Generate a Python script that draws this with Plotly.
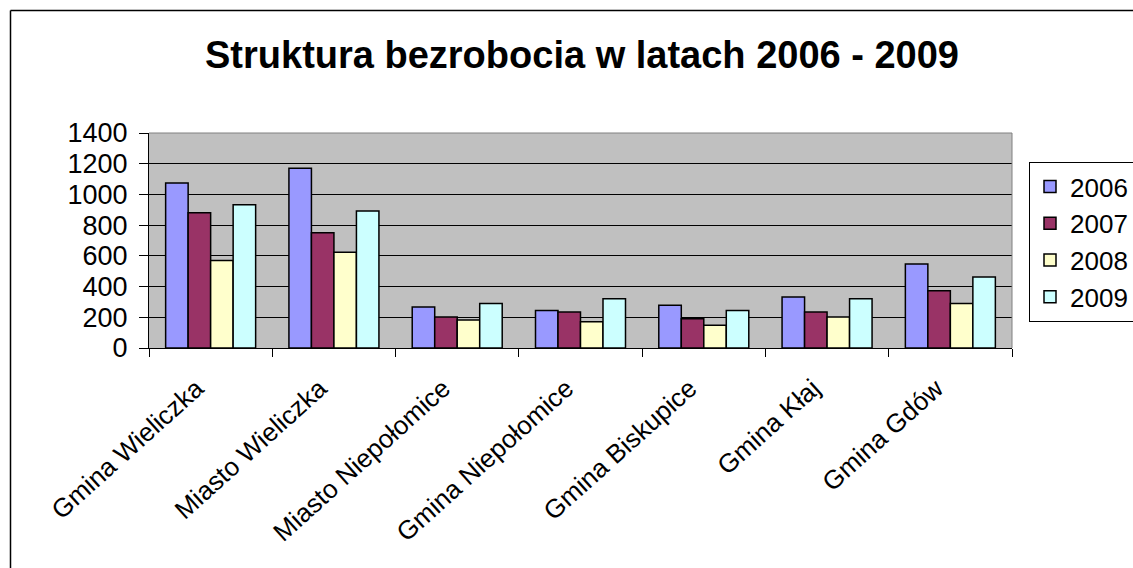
import plotly.graph_objects as go

categories = ["Gmina Wieliczka", "Miasto Wieliczka", "Miasto Niepołomice",
              "Gmina Niepołomice", "Gmina Biskupice", "Gmina Kłaj", "Gmina Gdów"]
years = ["2006", "2007", "2008", "2009"]
v2006 = [1075, 1170, 267, 245, 278, 332, 547]
v2007 = [880, 750, 202, 234, 191, 234, 373]
v2008 = [569, 623, 182, 171, 148, 202, 289]
v2009 = [933, 892, 289, 321, 245, 321, 462]
series = [v2006, v2007, v2008, v2009]
colors = ["#9999FF", "#993366", "#FFFFCC", "#CCFFFF"]

FONT = "Liberation Sans, Arial, sans-serif"

fig = go.Figure()
for name, vals, col in zip(years, series, colors):
    fig.add_trace(go.Bar(
        x=categories, y=vals, name=name,
        marker=dict(color=col, line=dict(color="black", width=1.5)),
    ))

W, H = 1133, 568
L, R, T, B = 149, 1012, 133, 348
pw, ph = R - L, B - T

def px2x(px):
    return (px - L) / pw

def py2y(py):
    return (B - py) / ph

fig.update_layout(
    width=W, height=H,
    margin=dict(l=L, r=W - R, t=T, b=H - B, pad=0, autoexpand=False),
    paper_bgcolor="white",
    plot_bgcolor="#C0C0C0",
    barmode="group",
    bargap=0.27,
    bargroupgap=0,
    font=dict(family=FONT, size=26, color="black"),
    title=dict(
        text="<b>Struktura bezrobocia w latach 2006 - 2009</b>",
        font=dict(family=FONT, size=38, color="black"),
        xref="paper", x=px2x(582), xanchor="center",
        yref="container", y=1 - 55 / H, yanchor="middle",
    ),
    legend=dict(
        x=px2x(1029), xanchor="left",
        y=py2y(162), yanchor="top",
        bgcolor="white", bordercolor="black", borderwidth=1,
        font=dict(family=FONT, size=26, color="black"),
        tracegroupgap=0,
        itemwidth=30,
    ),
    showlegend=True,
)

fig.update_yaxes(
    range=[0, 1400], dtick=200, tick0=0,
    showgrid=True, gridcolor="black", gridwidth=1,
    zeroline=False,
    showline=True, linecolor="black", linewidth=1,
    ticks="outside", ticklen=9, tickcolor="black", tickwidth=1,
    tickfont=dict(family=FONT, size=27, color="black"),
    ticklabelstandoff=6,
)
fig.update_xaxes(
    showline=True, linecolor="black", linewidth=1,
    ticks="outside", ticklen=8, tickcolor="black", tickwidth=1,
    tickson="boundaries",
    tickangle=-42,
    tickfont=dict(family=FONT, size=26, color="black"),
    ticklabelstandoff=14,
    ticklabelshift=-14,
    showgrid=False,
)

# plot-area top/right border (gray) and outer chart border (black)
fig.add_shape(type="line", xref="paper", yref="paper", x0=0, x1=1, y0=1, y1=1,
              line=dict(color="#808080", width=1), layer="above")
fig.add_shape(type="line", xref="paper", yref="paper", x0=1, x1=1, y0=0, y1=1,
              line=dict(color="#808080", width=1), layer="above")
fig.add_shape(type="line", xref="paper", yref="paper",
              x0=px2x(10.5), x1=px2x(W + 20), y0=py2y(10.5), y1=py2y(10.5),
              line=dict(color="black", width=1.5))
fig.add_shape(type="line", xref="paper", yref="paper",
              x0=px2x(10.5), x1=px2x(10.5), y0=py2y(10.5), y1=py2y(H + 20),
              line=dict(color="black", width=1.5))

fig.write_html(
    "out.html",
    config={"displayModeBar": False},
    post_script="document.body.style.margin='0';document.body.style.overflow='hidden';",
)
